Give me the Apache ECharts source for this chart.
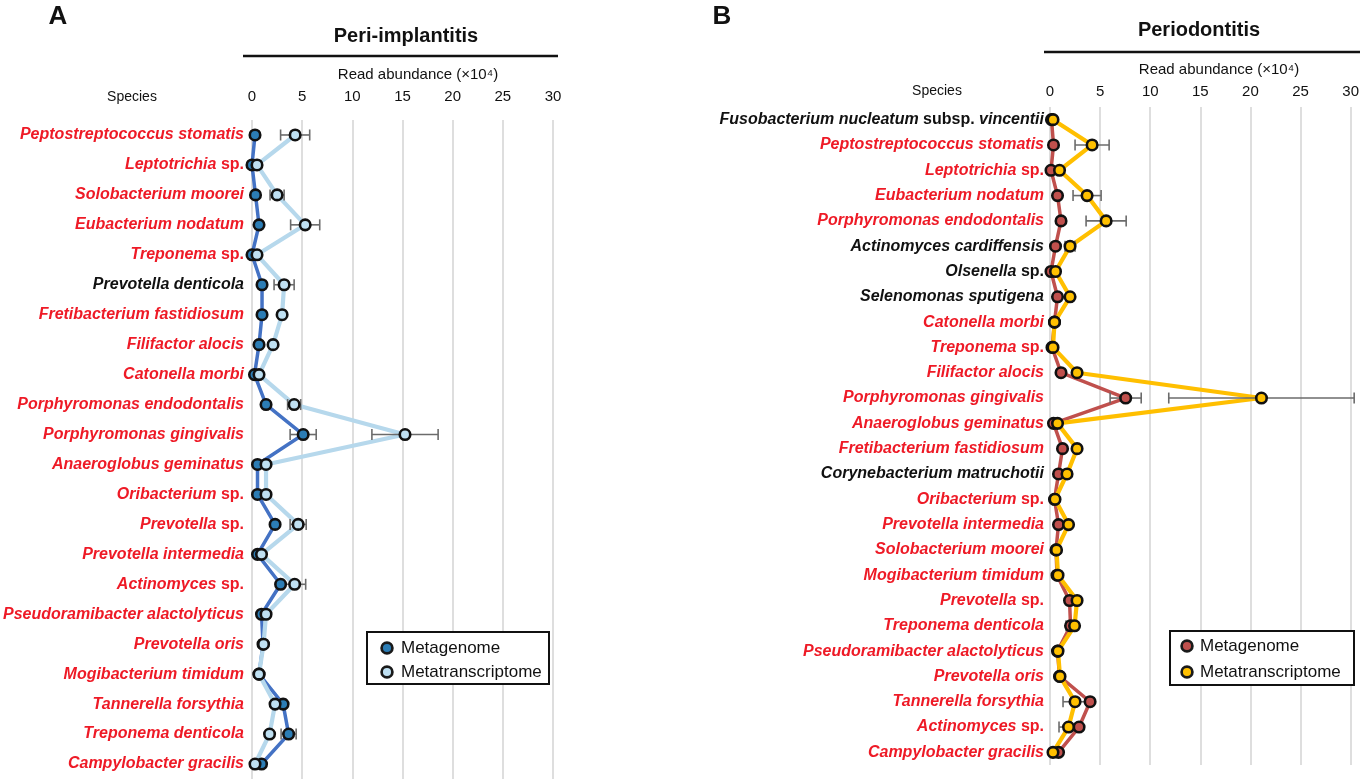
<!DOCTYPE html>
<html>
<head>
<meta charset="utf-8">
<script src="https://cdn.jsdelivr.net/npm/echarts@6/dist/echarts.min.js"></script>
<style>
html,body{margin:0;padding:0;background:#fff;}
#chart{width:1362px;height:781px;}
</style>
</head>
<body>
<div id="chart"></div>
<script>
// ---------- Data (read abundance ×10^4) ----------
const speciesA = [
  'Peptostreptococcus stomatis','Leptotrichia sp.','Solobacterium moorei','Eubacterium nodatum',
  'Treponema sp.','Prevotella denticola','Fretibacterium fastidiosum','Filifactor alocis',
  'Catonella morbi','Porphyromonas endodontalis','Porphyromonas gingivalis','Anaeroglobus geminatus',
  'Oribacterium sp.','Prevotella sp.','Prevotella intermedia','Actinomyces sp.',
  'Pseudoramibacter alactolyticus','Prevotella oris','Mogibacterium timidum','Tannerella forsythia',
  'Treponema denticola','Campylobacter gracilis'
];
const metaA    = [0.3, 0.0, 0.35, 0.7, 0.0, 1.0, 1.0, 0.7, 0.25, 1.4, 5.1, 0.55, 0.55, 2.3, 0.55, 2.85, 0.95, 1.1, 0.7, 3.1, 3.65, 0.95];
const transA   = [4.3, 0.5, 2.5, 5.3, 0.5, 3.2, 3.0, 2.1, 0.7, 4.2, 15.25, 1.4, 1.4, 4.6, 0.95, 4.25, 1.4, 1.15, 0.7, 2.3, 1.75, 0.3];
const metaErrA = [0, 0, 0, 0, 0, 0, 0, 0, 0, 0, 1.3, 0, 0, 0, 0, 0, 0, 0, 0, 0.3, 0.75, 0];
const transErrA= [1.45, 0, 0.7, 1.45, 0, 1.0, 0.3, 0, 0, 0.65, 3.3, 0, 0, 0.8, 0, 1.1, 0, 0, 0, 0, 0, 0];
const blackA = ['Prevotella denticola'];

const speciesB = [
  'Fusobacterium nucleatum subsp. vincentii','Peptostreptococcus stomatis','Leptotrichia sp.',
  'Eubacterium nodatum','Porphyromonas endodontalis','Actinomyces cardiffensis','Olsenella sp.',
  'Selenomonas sputigena','Catonella morbi','Treponema sp.','Filifactor alocis','Porphyromonas gingivalis',
  'Anaeroglobus geminatus','Fretibacterium fastidiosum','Corynebacterium matruchotii','Oribacterium sp.',
  'Prevotella intermedia','Solobacterium moorei','Mogibacterium timidum','Prevotella sp.',
  'Treponema denticola','Pseudoramibacter alactolyticus','Prevotella oris','Tannerella forsythia',
  'Actinomyces sp.','Campylobacter gracilis'
];
const metaB    = [0.15, 0.35, 0.1, 0.75, 1.1, 0.55, 0.1, 0.75, 0.45, 0.2, 1.1, 7.55, 0.35, 1.25, 0.85, 0.45, 0.85, 0.6, 0.7, 1.95, 2.05, 0.75, 0.95, 4.0, 2.9, 0.85];
const transB   = [0.3, 4.2, 0.95, 3.7, 5.6, 2.0, 0.55, 2.0, 0.45, 0.3, 2.7, 21.1, 0.75, 2.7, 1.7, 0.5, 1.85, 0.65, 0.8, 2.7, 2.45, 0.8, 1.0, 2.5, 1.85, 0.3];
const metaErrB = [0, 0, 0, 0, 0, 0, 0, 0, 0, 0, 0, 1.55, 0, 0, 0.2, 0, 0, 0, 0, 0.3, 0.45, 0, 0, 0, 0, 0];
const transErrB= [0, 1.7, 0, 1.4, 2.0, 0.5, 0, 0, 0, 0, 0, 9.25, 0, 0, 0, 0, 0, 0, 0, 0, 0, 0, 0, 1.2, 0.95, 0];
const blackB = ['Fusobacterium nucleatum subsp. vincentii','Actinomyces cardiffensis','Olsenella sp.',
  'Selenomonas sputigena','Corynebacterium matruchotii'];

const xTicks = [0, 5, 10, 15, 20, 25, 30];
const seriesNames = ['Metagenome', 'Metatranscriptome'];

// ---------- Styling ----------
const FONT = '"Liberation Sans", Arial, Helvetica, sans-serif';
const RED = '#ee1a26';
const colA = { metaFill: '#2c7db5', metaLine: '#4472c4', transFill: '#bfe0f2', transLine: '#b6d8ec' };
const colB = { metaFill: '#c0504d', metaLine: '#c0504d', transFill: '#ffc000', transLine: '#ffbf00' };

function labelFormatter(blackList) {
  return function (name) {
    const pre = blackList.indexOf(name) >= 0 ? 'k' : 'r';
    const words = name.split(' ');
    return words.map(function (w, i) {
      const txt = w + (i < words.length - 1 ? ' ' : '');
      const it = (w === 'sp.' || w === 'subsp.') ? 'n' : 'i';
      return '{' + pre + it + '|' + txt + '}';
    }).join('');
  };
}
const richLabel = {
  ri: { color: RED, fontStyle: 'italic', fontWeight: 'bold', fontSize: 16, fontFamily: FONT },
  rn: { color: RED, fontStyle: 'normal', fontWeight: 'bold', fontSize: 16, fontFamily: FONT },
  ki: { color: '#111', fontStyle: 'italic', fontWeight: 'bold', fontSize: 16, fontFamily: FONT },
  kn: { color: '#111', fontStyle: 'normal', fontWeight: 'bold', fontSize: 16, fontFamily: FONT }
};

function errRender(params, api) {
  const v = api.value(0), c = api.value(1), e = api.value(2);
  const lo = api.coord([v - e, c]), hi = api.coord([v + e, c]);
  const h = 5.5;
  const st = { stroke: '#6b6b6b', lineWidth: 1.6 };
  return {
    type: 'group',
    children: [
      { type: 'line', shape: { x1: lo[0], y1: lo[1], x2: hi[0], y2: hi[1] }, style: st },
      { type: 'line', shape: { x1: lo[0], y1: lo[1] - h, x2: lo[0], y2: lo[1] + h }, style: st },
      { type: 'line', shape: { x1: hi[0], y1: hi[1] - h, x2: hi[0], y2: hi[1] + h }, style: st }
    ]
  };
}

function pairs(vals) { return vals.map(function (v, i) { return [v, i]; }); }
function errData(vals, errs) {
  const out = [];
  vals.forEach(function (v, i) { if (errs[i] > 0) out.push([v, i, errs[i]]); });
  return out;
}

function panelSeries(idx, meta, trans, metaErr, transErr, col) {
  const common = { xAxisIndex: idx, yAxisIndex: idx, silent: true, animation: false };
  return [
    Object.assign({ type: 'line', name: seriesNames[0], data: pairs(meta), showSymbol: false, symbol: 'none',
      lineStyle: { color: col.metaLine, width: 3.5 }, z: 2 }, common),
    Object.assign({ type: 'line', name: seriesNames[1], data: pairs(trans), showSymbol: false, symbol: 'none',
      lineStyle: { color: col.transLine, width: 4.2 }, z: 3 }, common),
    Object.assign({ type: 'custom', renderItem: errRender, data: errData(meta, metaErr), clip: false, z: 4,
      encode: { x: 0, y: 1 } }, common),
    Object.assign({ type: 'custom', renderItem: errRender, data: errData(trans, transErr), clip: false, z: 4,
      encode: { x: 0, y: 1 } }, common),
    Object.assign({ type: 'scatter', name: seriesNames[0], data: pairs(meta), symbol: 'circle', symbolSize: 10.5,
      itemStyle: { color: col.metaFill, borderColor: '#111', borderWidth: 2.6, opacity: 1 }, z: 5 }, common),
    Object.assign({ type: 'scatter', name: seriesNames[1], data: pairs(trans), symbol: 'circle', symbolSize: 10.5,
      itemStyle: { color: col.transFill, borderColor: '#111', borderWidth: 2.6, opacity: 1 }, z: 6 }, common)
  ];
}

function xAxisDef(idx, margin) {
  return {
    gridIndex: idx, type: 'value', position: 'top', min: xTicks[0], max: xTicks[xTicks.length - 1],
    interval: xTicks[1] - xTicks[0],
    axisLine: { show: false }, axisTick: { show: false },
    axisLabel: { fontSize: 15, color: '#111', margin: margin, verticalAlign: 'middle', fontFamily: FONT },
    splitLine: { show: true, lineStyle: { color: '#d3d3d3', width: 1.5 } }
  };
}
function yAxisDef(idx, data, blackList, margin) {
  return {
    gridIndex: idx, type: 'category', data: data, inverse: true, boundaryGap: true,
    axisLine: { show: false }, axisTick: { show: false }, splitLine: { show: false },
    axisLabel: { interval: 0, margin: margin, formatter: labelFormatter(blackList), rich: richLabel }
  };
}

function legendGraphic(x1, y1, x2, y2, cx, tx, ys, col) {
  const items = [
    { type: 'rect', shape: { x: x1, y: y1, width: x2 - x1, height: y2 - y1 },
      style: { fill: '#fff', stroke: '#111', lineWidth: 2 }, z: 10 }
  ];
  [col.metaFill, col.transFill].forEach(function (f, i) {
    items.push({ type: 'circle', shape: { cx: cx, cy: ys[i], r: 5.4 },
      style: { fill: f, stroke: '#1a1a1a', lineWidth: 2.7 }, z: 11 });
    items.push({ type: 'text', x: tx, y: ys[i],
      style: { text: seriesNames[i], fontSize: 17, fontFamily: FONT, fill: '#111', textVerticalAlign: 'middle', textAlign: 'left' }, z: 11 });
  });
  return items;
}

function txt(x, y, s, size, weight, align) {
  return { type: 'text', x: x, y: y, z: 10,
    style: { text: s, fontSize: size, fontWeight: weight || 'normal', fontFamily: FONT, fill: '#111',
      textAlign: align || 'center', textVerticalAlign: 'middle' } };
}

const option = {
  backgroundColor: '#fff',
  animation: false,
  textStyle: { fontFamily: FONT },
  grid: [
    { left: 252, top: 120, width: 301, height: 659 },
    { left: 1050, top: 107, width: 304, height: 658 }
  ],
  xAxis: [xAxisDef(0, 23), xAxisDef(1, 15)],
  yAxis: [yAxisDef(0, speciesA, blackA, 8), yAxisDef(1, speciesB, blackB, 6)],
  series: [].concat(
    panelSeries(0, metaA, transA, metaErrA, transErrA, colA),
    panelSeries(1, metaB, transB, metaErrB, transErrB, colB)
  ),
  graphic: [].concat(
    [
      txt(58, 17, 'A', 26, 'bold'),
      txt(406, 36, 'Peri-implantitis', 20, 'bold'),
      { type: 'line', shape: { x1: 243, y1: 56, x2: 558, y2: 56 }, style: { stroke: '#111', lineWidth: 2.5 } },
      txt(418, 75, 'Read abundance (×10⁴)', 15),
      txt(132, 97, 'Species', 14),
      txt(722, 17, 'B', 26, 'bold'),
      txt(1199, 30, 'Periodontitis', 20, 'bold'),
      { type: 'line', shape: { x1: 1044, y1: 52, x2: 1360, y2: 52 }, style: { stroke: '#111', lineWidth: 2.5 } },
      txt(1219, 70, 'Read abundance (×10⁴)', 15),
      txt(937, 91, 'Species', 14)
    ],
    legendGraphic(367, 632, 549, 684, 387, 401, [648, 672], colA),
    legendGraphic(1170, 631, 1354, 685, 1187, 1200, [646, 672], colB)
  )
};

const chart = echarts.init(document.getElementById('chart'), null, { renderer: 'canvas' });
chart.setOption(option);
</script>
</body>
</html>
